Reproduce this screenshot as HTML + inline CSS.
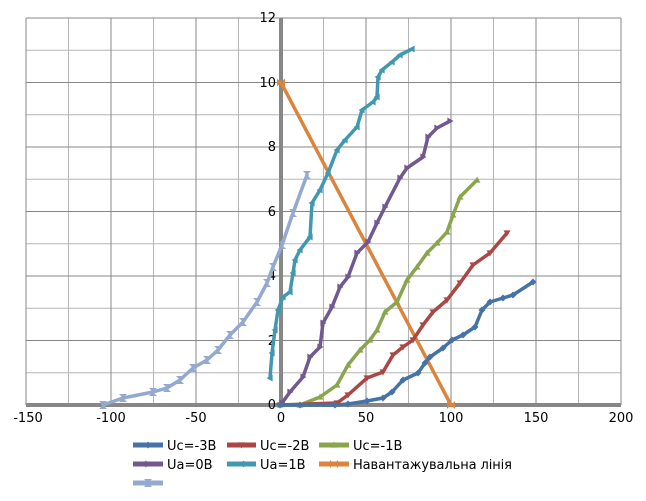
<!DOCTYPE html>
<html><head><meta charset="utf-8"><style>
html,body{margin:0;padding:0;background:#fff;}
svg{display:block;font-family:"DejaVu Sans","Liberation Sans",sans-serif;}
</style></head><body>
<svg width="646" height="501" viewBox="0 0 646 501" xmlns="http://www.w3.org/2000/svg">
<defs>
<marker id="mb" viewBox="-4 -4 8 8" markerWidth="7" markerHeight="7" markerUnits="userSpaceOnUse" orient="0"><path d="M0,-4 L4,0 L0,4 L-4,0Z" fill="#4572A7"/></marker>
<marker id="mr" viewBox="-4 -4 8 8" markerWidth="7" markerHeight="7" markerUnits="userSpaceOnUse" orient="0"><path d="M-4,-3 L4,-3 L0,4Z" fill="#AA4643"/></marker>
<marker id="mg" viewBox="-4 -4 8 8" markerWidth="7" markerHeight="7" markerUnits="userSpaceOnUse" orient="0"><path d="M-4,3 L4,3 L0,-4Z" fill="#89A54E"/></marker>
<marker id="mp" viewBox="-4 -4 8 8" markerWidth="7" markerHeight="7" markerUnits="userSpaceOnUse" orient="0"><path d="M-3,-4 L-3,4 L4,0Z" fill="#71588F"/></marker>
<marker id="mt" viewBox="-4 -4 8 8" markerWidth="7" markerHeight="7" markerUnits="userSpaceOnUse" orient="0"><path d="M3,-4 L3,4 L-4,0Z" fill="#4198AF"/></marker>
<marker id="mo" viewBox="-4 -4 8 8" markerWidth="8" markerHeight="8" markerUnits="userSpaceOnUse" orient="0"><path d="M-4,-4 L0,0 L-4,4Z M4,-4 L0,0 L4,4Z" fill="#DB843D"/></marker>
<marker id="ml" viewBox="-4 -4 8 8" markerWidth="8" markerHeight="8" markerUnits="userSpaceOnUse" orient="0"><path d="M-4,-4 L4,-4 L0,0Z M-4,4 L4,4 L0,0Z" fill="#93A9CF"/></marker>
</defs>
<rect width="646" height="501" fill="#fff"/>
<g stroke-width="1">
<g stroke="#b5b5b5">
<line x1="68.5" y1="18" x2="68.5" y2="405"/><line x1="153.5" y1="18" x2="153.5" y2="405"/><line x1="238.5" y1="18" x2="238.5" y2="405"/><line x1="323.5" y1="18" x2="323.5" y2="405"/><line x1="408.5" y1="18" x2="408.5" y2="405"/><line x1="493.5" y1="18" x2="493.5" y2="405"/><line x1="578.5" y1="18" x2="578.5" y2="405"/>
<line x1="26" y1="372.75" x2="621" y2="372.75"/><line x1="26" y1="308.25" x2="621" y2="308.25"/><line x1="26" y1="243.75" x2="621" y2="243.75"/><line x1="26" y1="179.25" x2="621" y2="179.25"/><line x1="26" y1="114.75" x2="621" y2="114.75"/><line x1="26" y1="50.25" x2="621" y2="50.25"/>
</g>
<g stroke="#878787">
<line x1="26" y1="18" x2="26" y2="405"/><line x1="111" y1="18" x2="111" y2="405"/><line x1="196" y1="18" x2="196" y2="405"/><line x1="366" y1="18" x2="366" y2="405"/><line x1="451" y1="18" x2="451" y2="405"/><line x1="536" y1="18" x2="536" y2="405"/><line x1="621" y1="18" x2="621" y2="405"/>
<line x1="26" y1="340.5" x2="621" y2="340.5"/><line x1="26" y1="276" x2="621" y2="276"/><line x1="26" y1="211.5" x2="621" y2="211.5"/><line x1="26" y1="147" x2="621" y2="147"/><line x1="26" y1="82.5" x2="621" y2="82.5"/><line x1="26" y1="18" x2="621" y2="18"/>
</g>
</g>
<line x1="281" y1="18" x2="281" y2="405" stroke="#878787" stroke-width="4"/>
<line x1="26" y1="405" x2="621" y2="405" stroke="#878787" stroke-width="4"/>
<g font-size="13" fill="#000" text-anchor="end">
<text x="276" y="409">0</text><text x="276" y="345">2</text><text x="276" y="280">4</text><text x="276" y="216">6</text><text x="276" y="151">8</text><text x="276" y="87">10</text><text x="276" y="22">12</text>
</g>
<g font-size="13" fill="#000" text-anchor="middle">
<text x="28" y="422">-150</text><text x="111" y="422">-100</text><text x="196" y="422">-50</text><text x="281" y="422">0</text><text x="366" y="422">50</text><text x="451" y="422">100</text><text x="536" y="422">150</text><text x="621" y="422">200</text>
</g>
<g fill="none" stroke-width="3.5" stroke-linejoin="round" stroke-linecap="round">
<polyline stroke="#93A9CF" marker-start="url(#ml)" marker-mid="url(#ml)" marker-end="url(#ml)" points="103,405 123,398 153,392 167,388 180,380 193,368 207,360 218,350 230,335 243,322 257,302 267,283 273,267 282,245 293,213 307,175"/>
<polyline stroke="#DB843D" marker-start="url(#mo)" marker-end="url(#mo)" points="281,82.5 451,405"/>
<polyline stroke="#4198AF" marker-start="url(#mt)" marker-mid="url(#mt)" marker-end="url(#mt)" points="270,378 272,353 275,330 278,310 283,297 290,292 293,273 295,260 300,250 310,237 312,203 320,190 328,173 337,150 345,140 357,127 362,110 373,102 377,97 378,77 382,70 392,62 400,55 412,49"/>
<polyline stroke="#71588F" marker-start="url(#mp)" marker-mid="url(#mp)" marker-end="url(#mp)" points="282,403 290,392 303,377 310,357 320,347 323,323 332,307 340,287 348,277 357,253 368,242 377,223 385,207 400,178 407,168 423,157 428,137 437,128 450,121"/>
<polyline stroke="#89A54E" marker-start="url(#mg)" marker-mid="url(#mg)" marker-end="url(#mg)" points="280,405 300,405 320,397 337,385 348,365 360,350 370,340 377,330 385,312 397,302 407,280 417,267 427,253 437,243 447,232 453,215 460,197 477,180"/>
<polyline stroke="#AA4643" marker-start="url(#mr)" marker-mid="url(#mr)" marker-end="url(#mr)" points="280,405 337,403 348,395 367,378 383,372 393,355 403,347 413,340 423,325 433,312 447,300 460,283 473,265 490,253 507,233"/>
<polyline stroke="#4572A7" marker-start="url(#mb)" marker-mid="url(#mb)" marker-end="url(#mb)" points="280,405 300,405 335,405 348,404 367,401 383,398 392,392 403,380 418,373 425,363 430,357 443,348 452,340 463,335 475,327 482,310 490,302 503,298 513,295 533,282"/>
</g>
<g stroke-width="5" fill="none">
<polyline points="133,445 148,445 163,445" stroke="#4572A7" marker-mid="url(#mb)"/>
<polyline points="227,445 241.5,445 256,445" stroke="#AA4643" marker-mid="url(#mr)"/>
<polyline points="319,445 334,445 349,445" stroke="#89A54E" marker-mid="url(#mg)"/>
<polyline points="133,464 148,464 163,464" stroke="#71588F" marker-mid="url(#mp)"/>
<polyline points="227,464 241.5,464 256,464" stroke="#4198AF" marker-mid="url(#mt)"/>
<polyline points="319,464 334,464 349,464" stroke="#DB843D" marker-mid="url(#mo)"/>
<polyline points="133,483 148,483 163,483" stroke="#93A9CF" marker-mid="url(#ml)"/>
</g>
<g font-size="13" fill="#000">
<text x="167" y="450">Uc=-3B</text>
<text x="260" y="450">Uc=-2B</text>
<text x="353" y="450">Uc=-1B</text>
<text x="167" y="469">Ua=0B</text>
<text x="260" y="469">Ua=1B</text>
<text x="353" y="469" textLength="159">Навантажувальна лінія</text>
</g>
</svg>
</body></html>
